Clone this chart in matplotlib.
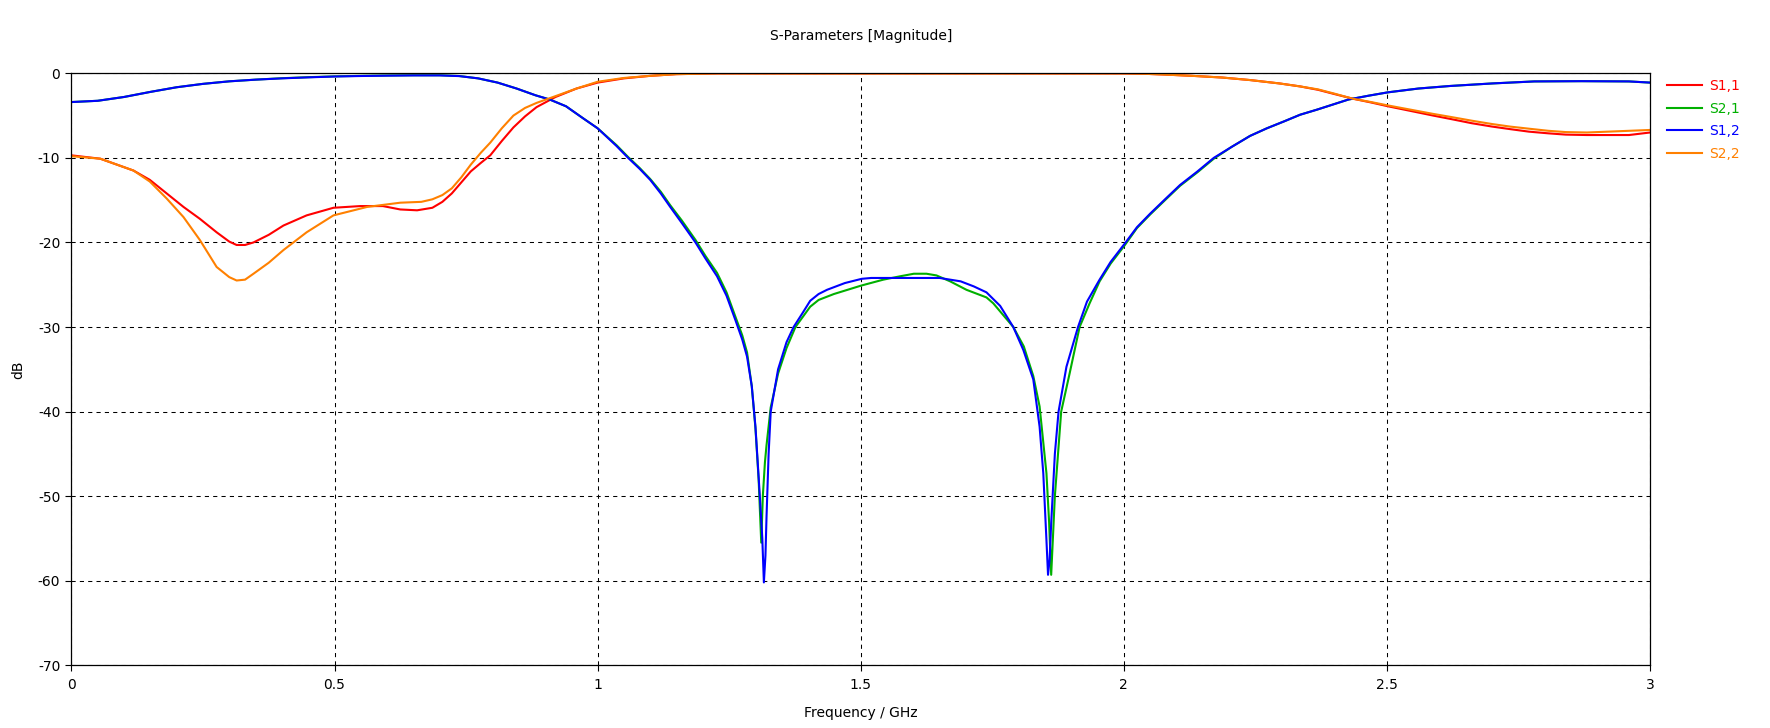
import matplotlib
matplotlib.use("Agg")
import matplotlib.pyplot as plt

# ---------------- data ----------------
f_s12 = [0, 0.05, 0.1, 0.15, 0.2, 0.25, 0.3, 0.35, 0.4, 0.45, 0.5, 0.55, 0.6, 0.65, 0.7,
         0.737, 0.773, 0.81, 0.846, 0.882, 0.909, 0.94, 0.972, 1.0, 1.036, 1.058, 1.08, 1.1,
         1.12, 1.138, 1.16, 1.186, 1.205, 1.227, 1.245, 1.262, 1.275, 1.284, 1.293, 1.30,
         1.308, 1.313, 1.316, 1.319, 1.321, 1.325, 1.329, 1.343, 1.359, 1.3725, 1.39, 1.404,
         1.42, 1.436, 1.47, 1.502, 1.52, 1.56, 1.6, 1.65, 1.69, 1.715, 1.739, 1.765, 1.79,
         1.809, 1.828, 1.840, 1.847, 1.853, 1.856, 1.859, 1.862, 1.869, 1.876, 1.891, 1.913,
         1.93, 1.954, 1.975, 2.001, 2.025, 2.05, 2.08, 2.107, 2.14, 2.171, 2.205, 2.24, 2.272,
         2.304, 2.335, 2.367, 2.397, 2.427, 2.465, 2.502, 2.56, 2.62, 2.7, 2.78, 2.87, 2.96, 3.0]
s12_db = [-3.4, -3.25, -2.8, -2.2, -1.65, -1.25, -0.95, -0.75, -0.6, -0.48, -0.38, -0.32,
          -0.28, -0.25, -0.25, -0.33, -0.6, -1.1, -1.8, -2.6, -3.1, -3.9, -5.3, -6.5, -8.6,
          -10.0, -11.3, -12.6, -14.2, -15.8, -17.7, -20.0, -21.9, -24.0, -26.3, -29.2, -31.5,
          -33.5, -37.0, -41.8, -49.7, -55.0, -60.2, -57.0, -52.5, -45.0, -40.0, -35.0, -31.8,
          -30.0, -28.3, -26.9, -26.1, -25.6, -24.8, -24.3, -24.2, -24.2, -24.2, -24.2, -24.6,
          -25.2, -25.9, -27.5, -30.0, -32.7, -36.2, -41.8, -47.3, -55.2, -59.3, -57.5, -53.2,
          -45.0, -40.0, -34.7, -30.0, -27.0, -24.4, -22.3, -20.2, -18.2, -16.6, -14.8, -13.2,
          -11.6, -10.0, -8.7, -7.4, -6.5, -5.7, -4.9, -4.3, -3.7, -3.1, -2.65, -2.25, -1.8,
          -1.5, -1.2, -0.96, -0.93, -0.96, -1.1]

f_s21 = [0, 0.05, 0.1, 0.15, 0.2, 0.25, 0.3, 0.35, 0.4, 0.45, 0.5, 0.55, 0.6, 0.65, 0.7,
         0.737, 0.773, 0.81, 0.846, 0.882, 0.909, 0.94, 0.972, 1.0, 1.036, 1.058, 1.08, 1.1,
         1.12, 1.138, 1.16, 1.186, 1.205, 1.227, 1.245, 1.262, 1.275, 1.284, 1.293, 1.30,
         1.306, 1.311, 1.314, 1.318, 1.321, 1.329, 1.343, 1.359, 1.376, 1.39, 1.404, 1.42,
         1.449, 1.475, 1.501, 1.543, 1.575, 1.601, 1.625, 1.644, 1.67, 1.701, 1.739, 1.752,
         1.79, 1.81, 1.828, 1.840, 1.853, 1.858, 1.862, 1.866, 1.869, 1.881, 1.897, 1.916,
         1.935, 1.954, 1.975, 2.001, 2.025, 2.05, 2.08, 2.107, 2.14, 2.171, 2.205, 2.24, 2.272,
         2.304, 2.335, 2.367, 2.397, 2.427, 2.465, 2.502, 2.56, 2.62, 2.7, 2.78, 2.87, 2.96, 3.0]
s21_db = [-3.4, -3.25, -2.8, -2.2, -1.65, -1.25, -0.95, -0.75, -0.58, -0.46, -0.36, -0.3,
          -0.26, -0.23, -0.23, -0.32, -0.6, -1.1, -1.8, -2.6, -3.1, -3.9, -5.3, -6.5, -8.5,
          -9.9, -11.2, -12.5, -14.0, -15.6, -17.4, -19.7, -21.6, -23.6, -25.9, -28.8, -31.0,
          -33.0, -37.0, -42.0, -48.0, -55.5, -50.0, -46.0, -44.0, -39.5, -35.5, -32.5, -30.0,
          -28.8, -27.6, -26.8, -26.1, -25.6, -25.1, -24.4, -24.0, -23.7, -23.7, -23.9, -24.6,
          -25.6, -26.5, -27.2, -30.0, -32.3, -35.8, -39.4, -47.3, -53.0, -59.3, -54.0, -50.0,
          -40.0, -35.5, -30.0, -27.2, -24.6, -22.5, -20.4, -18.3, -16.7, -14.9, -13.3, -11.7,
          -10.1, -8.7, -7.4, -6.5, -5.7, -4.9, -4.3, -3.7, -3.1, -2.65, -2.25, -1.8, -1.5,
          -1.2, -0.96, -0.93, -0.96, -1.1]

f_s11 = [0, 0.055, 0.118, 0.149, 0.181, 0.213, 0.244, 0.276, 0.30, 0.314, 0.33, 0.346, 0.375,
         0.403, 0.447, 0.498, 0.549, 0.592, 0.625, 0.657, 0.686, 0.705, 0.723, 0.741, 0.759,
         0.778, 0.796, 0.818, 0.84, 0.862, 0.884, 0.92, 0.96, 1.0, 1.05, 1.1, 1.15, 1.227, 1.5,
         2.0, 2.04, 2.078, 2.13, 2.187, 2.24, 2.296, 2.335, 2.369, 2.4, 2.435, 2.47, 2.502,
         2.545, 2.588, 2.625, 2.661, 2.7, 2.734, 2.77, 2.807, 2.84, 2.88, 2.96, 3.0]
s11_db = [-9.7, -10.1, -11.5, -12.6, -14.2, -15.8, -17.2, -18.8, -19.9, -20.3, -20.3, -20.0,
          -19.1, -18.0, -16.8, -15.9, -15.7, -15.7, -16.1, -16.2, -15.9, -15.2, -14.2, -12.9,
          -11.6, -10.6, -9.7, -8.0, -6.4, -5.1, -4.0, -2.8, -1.8, -1.1, -0.6, -0.3, -0.1,
          -0.02, -0.02, -0.02, -0.06, -0.15, -0.3, -0.5, -0.8, -1.2, -1.55, -1.95, -2.45, -3.0,
          -3.45, -3.9, -4.45, -5.0, -5.45, -5.9, -6.3, -6.6, -6.9, -7.1, -7.25, -7.3, -7.3,
          -7.0]

f_s22 = [0, 0.055, 0.118, 0.149, 0.181, 0.213, 0.244, 0.276, 0.30, 0.314, 0.33, 0.346, 0.375,
         0.403, 0.447, 0.498, 0.562, 0.625, 0.665, 0.686, 0.705, 0.723, 0.741, 0.759, 0.778,
         0.796, 0.818, 0.84, 0.862, 0.884, 0.92, 0.96, 1.0, 1.05, 1.1, 1.15, 1.227, 1.5, 2.0,
         2.04, 2.078, 2.13, 2.187, 2.24, 2.296, 2.335, 2.369, 2.4, 2.435, 2.47, 2.502, 2.545,
         2.588, 2.625, 2.661, 2.7, 2.734, 2.77, 2.807, 2.84, 2.88, 2.96, 3.0]
s22_db = [-9.8, -10.1, -11.5, -12.8, -14.8, -17.0, -19.7, -22.9, -24.1, -24.5, -24.4, -23.7,
          -22.4, -20.9, -18.8, -16.8, -15.8, -15.3, -15.2, -14.9, -14.4, -13.6, -12.3, -10.8,
          -9.4, -8.2, -6.5, -5.0, -4.1, -3.5, -2.7, -1.8, -1.0, -0.55, -0.3, -0.1, -0.02,
          -0.02, -0.02, -0.06, -0.15, -0.3, -0.5, -0.8, -1.2, -1.55, -1.9, -2.4, -3.0, -3.4,
          -3.8, -4.3, -4.8, -5.2, -5.6, -6.0, -6.3, -6.55, -6.8, -6.95, -7.0, -6.8, -6.7]

series_labels = ["S1,1", "S2,1", "S1,2", "S2,2"]
series_colors = ["#FF0000", "#00B000", "#0000FF", "#FF8000"]

x_ticks = [0, 0.5, 1, 1.5, 2, 2.5, 3]
x_tick_labels = ["0", "0.5", "1", "1.5", "2", "2.5", "3"]
y_ticks = [0, -10, -20, -30, -40, -50, -60, -70]
y_tick_labels = ["0", "-10", "-20", "-30", "-40", "-50", "-60", "-70"]

# ---------------- figure ----------------
plt.rcParams["font.family"] = ["DejaVu Sans"]
plt.rcParams["axes.unicode_minus"] = False

W, H = 1770, 728
fig = plt.figure(figsize=(W / 100, H / 100), dpi=100)
ax = fig.add_axes([71.4 / W, 1 - 665.3 / H, (1650 - 71.4) / W, (665.3 - 73.3) / H])

data = [(f_s11, s11_db), (f_s21, s21_db), (f_s12, s12_db), (f_s22, s22_db)]
handles = []
for (fx, fy), lab, col in zip(data, series_labels, series_colors):
    h, = ax.plot(fx, fy, color=col, lw=1.5, label=lab, solid_joinstyle="round")
    handles.append(h)

ax.set_xlim(0, 3)
ax.set_ylim(-70, 0)
ax.set_xticks(x_ticks)
ax.set_xticklabels(x_tick_labels)
ax.set_yticks(y_ticks)
ax.set_yticklabels(y_tick_labels)
ax.tick_params(direction="out", length=4, width=0.8, labelsize=10, colors="black")
ax.tick_params(axis="x", pad=5)
ax.tick_params(axis="y", pad=4)
for sp in ax.spines.values():
    sp.set_linewidth(0.9)
    sp.set_color("black")
ax.grid(True, color="black", lw=0.75, linestyle=(0, (4, 4)))
ax.set_axisbelow(True)

ax.set_title("S-Parameters [Magnitude]", fontsize=10, pad=24)
ax.set_xlabel("Frequency / GHz", fontsize=10)
ax.xaxis.set_label_coords(0.5, -0.068)
ax.set_ylabel("dB", fontsize=10)
ax.yaxis.set_label_coords(-0.029, 0.5)

fig.legend(handles, series_labels, loc="upper left",
           bbox_to_anchor=(1667 / W, 1 - 79 / H), frameon=False,
           fontsize=10, handlelength=2.5, handletextpad=0.5,
           labelspacing=0.62, borderpad=0, borderaxespad=0,
           labelcolor="linecolor")

fig.savefig("out.png", dpi=100, facecolor="white")
